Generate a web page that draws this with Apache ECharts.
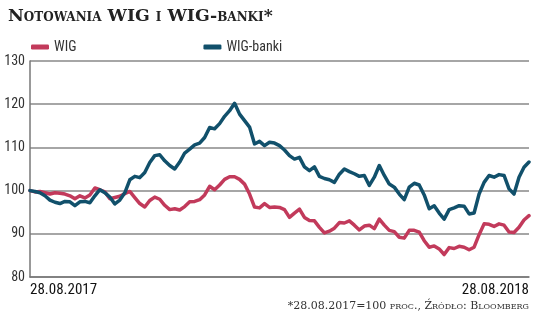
<!DOCTYPE html>
<html><head><meta charset="utf-8">
<script src="https://cdn.jsdelivr.net/npm/echarts@6/dist/echarts.min.js"></script>
<style>html,body{margin:0;padding:0;background:#fff}#c{width:536px;height:316px}</style>
</head><body><div id="c"></div>
<script>
const seriesNames = ['WIG', 'WIG-banki'];
const tickLabels = ['28.08.2017', '28.08.2018'];
const yTicks = [80, 90, 100, 110, 120, 130];
const wig = [100,99.7,99.8,99.5,99.2,99.5,99.4,99.2,98.8,98.1,98.8,98.3,99.0,100.6,100.2,99.7,98.1,98.4,98.7,99.3,
99.8,98.4,97.0,96.2,97.7,98.5,98.0,96.6,95.6,95.8,95.5,96.3,97.4,97.5,97.9,99.0,101.0,100.2,101.3,102.6,
103.2,103.2,102.6,101.5,99.2,96.2,96.0,97.0,96.1,96.2,96.1,95.6,93.8,94.8,95.7,93.8,93.1,93.0,91.5,90.2,
90.6,91.3,92.6,92.5,93.0,92.0,90.9,91.8,92.0,91.2,93.4,92.0,90.8,90.5,89.2,89.0,90.8,90.8,90.4,88.4,
86.9,87.2,86.5,85.2,86.8,86.6,87.1,86.9,86.3,86.9,89.8,92.3,92.2,91.7,92.3,92.0,90.4,90.3,91.5,93.2,94.2];
const wigBanki = [100,99.8,99.5,98.8,97.8,97.3,97.0,97.5,97.4,96.5,97.4,97.5,97.2,98.8,100.2,99.5,98.5,96.9,97.8,99.5,
102.5,103.3,103.0,104.2,106.5,108.1,108.3,106.9,105.8,105.0,106.6,108.7,109.6,110.6,111.0,112.3,114.6,114.3,115.5,117.2,
118.5,120.2,117.7,116.2,114.7,110.8,111.4,110.4,111.2,111.0,110.4,109.4,108.1,107.3,107.7,105.5,104.6,105.5,103.3,102.8,
102.5,101.9,103.8,105.0,104.4,103.9,103.3,103.5,101.2,103.1,105.8,103.5,101.5,100.8,99.2,97.9,100.8,101.7,101.3,99.0,
95.8,96.5,94.8,93.4,95.6,96.0,96.5,96.4,94.6,94.8,99.2,101.9,103.5,103.1,103.7,103.5,100.4,99.2,103.1,105.4,106.6];
const categories = wig.map((_, i) => i);
const lastIdx = categories.length - 1;

const chart = echarts.init(document.getElementById('c'), null, {renderer: 'canvas'});
const condensed = "'Liberation Sans Narrow', 'Roboto Condensed', 'DejaVu Sans Condensed', sans-serif";
chart.setOption({
  animation: false,
  backgroundColor: '#fff',
  title: {
    text: 'Notowania WIG i WIG-banki*',
    left: 3, top: 3,
    textStyle: {fontFamily: "'DejaVu Serif', serif", fontStyle: 'normal small-caps', fontWeight: 'bold', fontSize: 17.3, color: '#222'}
  },
  legend: {
    data: seriesNames,
    left: 26, top: 35,
    itemWidth: 18, itemHeight: 5, itemGap: 127,
    icon: 'roundRect',
    textStyle: {fontFamily: condensed, fontSize: 14, color: '#333'}
  },
  grid: {left: 30, right: 7, top: 61, bottom: 39},
  xAxis: {
    type: 'category', data: categories, boundaryGap: false,
    axisLine: {show: true, lineStyle: {color: '#777', width: 1.5}},
    axisTick: {show: false},
    axisLabel: {
      interval: (i) => i === 0 || i === lastIdx,
      formatter: (v, i) => i === 0 ? tickLabels[0] : tickLabels[1],
      alignMinLabel: 'left', alignMaxLabel: 'right',
      fontFamily: condensed, fontSize: 15, color: '#111', margin: 6
    },
    splitLine: {show: false}
  },
  yAxis: {
    type: 'value', min: yTicks[0], max: yTicks[yTicks.length - 1], interval: 10,
    axisLine: {show: true, lineStyle: {color: '#777', width: 1.5}},
    axisTick: {show: false},
    axisLabel: {fontFamily: condensed, fontSize: 14, color: '#333', margin: 5},
    splitLine: {show: true, lineStyle: {color: '#888', width: 1.5}}
  },
  series: [
    {name: seriesNames[0], type: 'line', data: wig, showSymbol: false, smooth: false,
     lineStyle: {color: '#c23a5b', width: 3.5, cap: 'round', join: 'round'}, itemStyle: {color: '#c23a5b'}, z: 2},
    {name: seriesNames[1], type: 'line', data: wigBanki, showSymbol: false, smooth: false,
     lineStyle: {color: '#11506b', width: 3.5, cap: 'round', join: 'round'}, itemStyle: {color: '#11506b'}, z: 3}
  ],
  graphic: [{
    type: 'text', right: 7, top: 301,
    style: {text: '*28.08.2017=100 proc., Źródło: Bloomberg', font: "normal small-caps normal 11px 'DejaVu Serif', serif", fill: '#333', textAlign: 'right'}
  }]
});
</script></body></html>
